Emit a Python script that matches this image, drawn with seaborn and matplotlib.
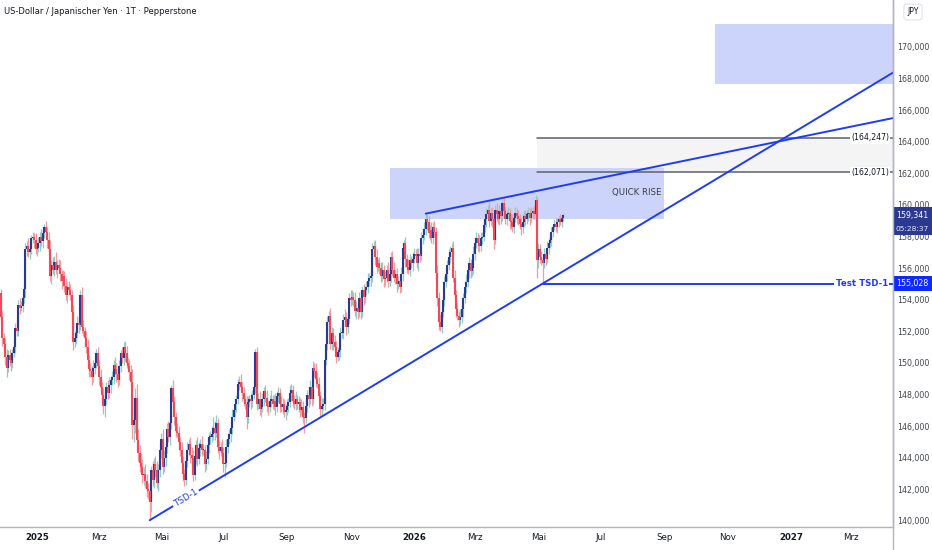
import numpy as np
import pandas as pd
import matplotlib
matplotlib.use("Agg")
import matplotlib.pyplot as plt
from matplotlib.patches import Rectangle
from matplotlib.lines import Line2D
import seaborn as sns

# USD/JPY daily candles (close + wick lengths per month)
first_open = 154.4
first_day = "2024-11-27"

close_nov24 = [152.9, 151.6, 151.2]
upw_nov24 = [0.3, 0.4, 0.3]
dnw_nov24 = [0.4, 0.5, 0.6]

close_dec24 = [150.4, 149.7, 150.5, 150.2, 150.0, 150.6, 151.0, 152.2, 152.0, 153.7, 153.5,
               153.6, 154.1, 154.7, 157.2, 157.4, 157.0, 157.2, 157.9, 158.0, 157.8, 157.2]
upw_dec24 = [0.4, 0.5, 0.3, 0.4, 0.5, 0.3, 0.4, 0.3, 0.5, 0.3, 0.4, 0.3, 0.5, 0.3, 0.4, 0.3, 0.5, 0.3, 0.2, 0.3, 0.2, 0.4]
dnw_dec24 = [0.5, 0.6, 0.3, 0.4, 0.5, 0.3, 0.2, 0.4, 0.3, 0.3, 0.4, 0.2, 0.4, 0.3, 0.5, 0.4, 0.3, 0.4, 0.3, 0.3, 0.5, 0.3]

close_jan25 = [157.3, 157.6, 158.0, 157.7, 158.2, 158.6, 158.3, 157.8, 157.2, 155.5, 156.2, 155.9,
               156.4, 155.9, 156.2, 156.0, 155.6, 155.2, 155.5, 154.9, 154.3, 154.8, 154.6]
upw_jan25 = [0.3, 0.4, 0.3, 0.5, 0.3, 0.2, 0.4, 0.3, 0.5, 0.6, 0.3, 0.5, 0.4, 0.6, 0.3, 0.4, 0.5, 0.3, 0.4, 0.3, 0.5, 0.3, 0.4]
dnw_jan25 = [0.4, 0.3, 0.5, 0.3, 0.4, 0.3, 0.3, 0.5, 0.4, 0.3, 0.5, 0.3, 0.4, 0.3, 0.5, 0.3, 0.4, 0.5, 0.3, 0.4, 0.3, 0.5, 0.3]

close_feb25 = [154.3, 153.2, 151.3, 151.6, 151.9, 152.5, 152.4, 154.3, 152.3, 152.0,
               151.6, 151.0, 150.2, 149.6, 149.5, 149.1, 149.7, 150.0, 150.6, 149.8]
upw_feb25 = [0.4, 0.3, 0.5, 0.4, 0.3, 0.5, 0.4, 0.3, 0.5, 0.4, 0.3, 0.4, 0.5, 0.3, 0.4, 0.3, 0.5, 0.4, 0.3, 0.4]
dnw_feb25 = [0.3, 0.4, 0.5, 0.3, 0.4, 0.3, 0.5, 0.3, 0.4, 0.3, 0.5, 0.4, 0.3, 0.5, 0.4, 0.5, 0.3, 0.4, 0.3, 0.5]

close_mar25 = [149.1, 148.5, 148.0, 147.3, 147.7, 148.5, 148.1, 148.6, 148.9, 149.1, 149.9,
               149.6, 149.3, 148.9, 149.8, 150.6, 150.3, 151.0, 150.6, 150.0, 149.8]
upw_mar25 = [0.4, 0.5, 0.3, 0.4, 0.6, 0.3, 0.4, 0.5, 0.3, 0.4, 0.3, 0.5, 0.4, 0.3, 0.4, 0.2, 0.4, 0.3, 0.4, 0.5, 0.3]
dnw_mar25 = [0.5, 0.3, 0.4, 0.5, 0.7, 0.3, 0.4, 0.3, 0.5, 0.3, 0.4, 0.3, 0.5, 0.4, 0.3, 0.4, 0.3, 0.4, 0.5, 0.3, 0.4]

close_apr25 = [149.4, 148.8, 146.1, 146.4, 147.8, 145.1, 144.3, 143.7, 143.4, 142.9, 143.0,
               142.5, 142.0, 141.9, 141.2, 143.2, 142.6, 143.6, 143.2, 142.4, 143.2, 144.5]
upw_apr25 = [0.4, 0.5, 0.8, 0.9, 0.6, 0.9, 0.7, 0.5, 0.6, 0.5, 0.4, 0.6, 0.5, 0.4, 0.5, 0.3, 0.6, 0.4, 0.5, 0.6, 0.4, 0.3]
dnw_apr25 = [0.5, 0.4, 0.9, 1.1, 0.8, 0.6, 0.5, 0.6, 0.4, 0.5, 0.6, 0.4, 0.5, 0.5, 1.15, 0.6, 0.4, 0.5, 0.4, 0.3, 0.5, 0.4]

close_may25 = [145.2, 143.4, 144.0, 144.7, 145.8, 145.3, 146.2, 148.4, 147.5, 146.6, 145.7,
               145.6, 145.0, 144.5, 143.7, 143.0, 142.6, 143.8, 144.5, 144.9, 144.2, 144.0]
upw_may25 = [0.4, 0.6, 0.5, 0.3, 0.4, 0.5, 0.3, 0.2, 0.5, 0.4, 0.3, 0.5, 0.4, 0.3, 0.5, 0.4, 0.3, 0.4, 0.5, 0.3, 0.4, 0.5]
dnw_may25 = [0.5, 0.4, 0.3, 0.5, 0.4, 0.3, 0.5, 0.4, 0.3, 0.5, 0.4, 0.3, 0.5, 0.4, 0.3, 0.5, 0.4, 0.3, 0.4, 0.3, 0.5, 0.4]

close_jun25 = [142.9, 144.1, 144.8, 143.9, 144.6, 144.9, 144.5, 144.5, 143.6, 143.9, 144.8,
               145.3, 145.3, 145.5, 145.9, 145.6, 146.2, 144.7, 144.4, 144.7, 144.3]
upw_jun25 = [0.5, 0.4, 0.3, 0.5, 0.4, 0.3, 0.5, 0.4, 0.3, 0.5, 0.4, 0.3, 0.4, 0.5, 0.7, 0.4, 0.5, 0.3, 0.4, 0.3, 0.5]
dnw_jun25 = [0.4, 0.3, 0.5, 0.4, 0.3, 0.5, 0.4, 0.3, 0.5, 0.4, 0.3, 0.5, 0.4, 0.3, 0.4, 0.5, 0.3, 0.4, 0.5, 0.3, 0.4]

close_jul25 = [143.6, 143.7, 144.7, 145.2, 145.5, 145.9, 146.6, 147.0, 147.4, 147.7, 148.7, 148.8,
               148.5, 148.1, 147.7, 147.4, 146.6, 147.5, 147.7, 147.6, 148.0, 148.5, 150.7]
upw_jul25 = [0.4, 0.3, 0.5, 0.4, 0.3, 0.4, 0.5, 0.3, 0.4, 0.3, 0.3, 0.4, 0.5, 0.3, 0.4, 0.3, 0.5, 0.4, 0.3, 0.4, 0.3, 0.4, 0.2]
dnw_jul25 = [0.5, 0.8, 0.3, 0.4, 0.3, 0.5, 0.4, 0.3, 0.4, 0.5, 0.3, 0.4, 0.3, 0.5, 0.4, 0.3, 0.8, 0.4, 0.3, 0.5, 0.4, 0.3, 0.4]

close_aug25 = [147.4, 147.7, 147.1, 147.2, 147.7, 148.2, 147.8, 147.3, 147.2, 147.6, 147.7,
               147.4, 147.6, 147.2, 147.9, 148.1, 147.4, 147.2, 147.4, 146.9, 147.0]
upw_aug25 = [0.3, 0.4, 0.5, 0.3, 0.4, 0.3, 0.4, 0.5, 0.3, 0.4, 0.6, 0.3, 0.4, 0.5, 0.3, 0.4, 0.3, 0.5, 0.4, 0.3, 0.4]
dnw_aug25 = [0.4, 0.3, 0.4, 0.5, 0.3, 0.4, 0.3, 0.4, 0.5, 0.3, 0.4, 0.3, 0.4, 0.5, 0.3, 0.4, 0.5, 0.3, 0.4, 0.3, 0.5]

close_sep25 = [147.3, 147.5, 148.1, 148.3, 147.6, 147.4, 147.7, 147.4, 147.5, 147.0, 147.2,
               146.6, 146.5, 147.3, 148.0, 147.7, 148.5, 147.7, 149.7, 149.5, 149.0, 148.7]
upw_sep25 = [0.4, 0.3, 0.5, 0.4, 0.3, 0.4, 0.5, 0.3, 0.4, 0.3, 0.5, 0.4, 0.3, 0.4, 0.3, 0.5, 0.4, 0.3, 0.4, 0.3, 0.5, 0.4]
dnw_sep25 = [0.3, 0.4, 0.3, 0.5, 0.4, 0.3, 0.4, 0.3, 0.5, 0.4, 0.3, 0.4, 0.9, 0.3, 0.4, 0.5, 0.3, 0.4, 0.3, 0.4, 0.5, 0.3]

close_oct25 = [147.9, 147.1, 147.3, 147.4, 150.2, 151.2, 152.6, 153.0, 151.2, 151.9, 151.3, 151.0,
               150.4, 150.7, 150.8, 151.9, 151.9, 152.7, 152.9, 152.3, 152.8, 154.1, 154.0]
upw_oct25 = [0.4, 0.3, 0.5, 0.4, 0.4, 0.5, 0.4, 0.3, 0.5, 0.4, 0.3, 0.5, 0.4, 0.3, 0.5, 0.4, 0.3, 0.4, 0.5, 0.3, 0.4, 0.3, 0.5]
dnw_oct25 = [0.3, 0.5, 0.4, 0.3, 0.4, 0.3, 0.4, 0.5, 0.3, 0.4, 0.5, 0.3, 0.4, 0.3, 0.5, 0.4, 0.3, 0.4, 0.3, 0.5, 0.4, 0.3, 0.4]

close_nov25 = [154.2, 154.0, 153.3, 153.5, 153.2, 154.1, 153.2, 154.6, 154.2, 154.6,
               154.8, 155.2, 155.4, 155.5, 157.2, 157.4, 156.7, 156.1, 156.3, 156.0]
upw_nov25 = [0.4, 0.3, 0.5, 0.4, 0.3, 0.4, 0.5, 0.3, 0.4, 0.3, 0.4, 0.5, 0.3, 0.4, 0.4, 0.3, 0.4, 0.5, 0.3, 0.4]
dnw_nov25 = [0.3, 0.4, 0.3, 0.5, 0.4, 0.3, 0.4, 0.3, 0.5, 0.4, 0.3, 0.4, 0.3, 0.5, 0.4, 0.3, 0.5, 0.4, 0.3, 0.4]

close_dec25 = [155.5, 155.9, 155.3, 155.4, 155.9, 155.2, 155.6, 156.7, 155.9, 155.4, 155.6, 155.0,
               155.2, 154.8, 155.6, 157.3, 157.6, 156.6, 156.1, 155.9, 156.5, 156.3, 156.6]
upw_dec25 = [0.4, 0.5, 0.3, 0.4, 0.3, 0.5, 0.4, 0.3, 0.4, 0.5, 0.3, 0.4, 0.3, 0.4, 0.5, 0.3, 0.2, 0.4, 0.3, 0.5, 0.4, 0.3, 0.4]
dnw_dec25 = [0.4, 0.3, 0.5, 0.4, 0.3, 0.4, 0.3, 0.5, 0.4, 0.3, 0.4, 0.5, 0.3, 0.4, 0.3, 0.4, 0.3, 0.5, 0.4, 0.3, 0.4, 0.3, 0.5]

close_jan26 = [156.9, 156.8, 156.3, 156.9, 156.8, 157.9, 158.1, 158.5, 159.1, 158.9, 158.2,
               158.4, 157.9, 158.6, 158.3, 155.7, 154.1, 152.6, 152.3, 153.2, 154.0, 155.1]
upw_jan26 = [0.4, 0.3, 0.5, 0.4, 0.3, 0.4, 0.3, 0.4, 0.35, 0.3, 0.4, 0.3, 0.5, 0.3, 0.4, 0.3, 0.5, 0.4, 0.5, 0.4, 0.3, 0.4]
dnw_jan26 = [0.3, 0.4, 0.3, 0.5, 0.4, 0.3, 0.4, 0.3, 0.4, 0.5, 0.3, 0.4, 0.3, 0.4, 0.3, 0.6, 0.5, 0.5, 0.3, 0.4, 0.3, 0.4]

close_feb26 = [155.6, 156.2, 156.7, 157.0, 157.3, 155.4, 154.3, 153.4, 153.0, 152.7,
               152.9, 153.4, 154.1, 154.8, 155.1, 155.9, 156.3, 155.8, 156.0, 156.9]
upw_feb26 = [0.4, 0.3, 0.5, 0.4, 0.3, 0.4, 0.5, 0.3, 0.4, 0.3, 0.5, 0.4, 0.3, 0.4, 0.5, 0.3, 0.4, 0.3, 0.4, 0.5]
dnw_feb26 = [0.3, 0.4, 0.3, 0.4, 0.5, 0.3, 0.4, 0.5, 0.3, 0.4, 0.3, 0.4, 0.5, 0.3, 0.4, 0.3, 0.5, 0.4, 0.3, 0.4]

close_mar26 = [157.6, 157.9, 157.6, 157.4, 157.9, 158.0, 158.7, 159.1, 159.4, 159.7, 159.0,
               159.5, 159.1, 157.8, 159.7, 159.4, 159.1, 159.6, 159.3, 160.1, 159.6, 159.1]
upw_mar26 = [0.3, 0.4, 0.3, 0.5, 0.4, 0.3, 0.4, 0.3, 0.4, 0.3, 0.5, 0.3, 0.4, 0.5, 0.3, 0.4, 0.3, 0.4, 0.3, 0.2, 0.4, 0.3]
dnw_mar26 = [0.4, 0.3, 0.5, 0.4, 0.3, 0.4, 0.3, 0.4, 0.5, 0.3, 0.4, 0.3, 0.5, 0.6, 0.3, 0.4, 0.3, 0.4, 0.5, 0.3, 0.4, 0.3]

close_apr26 = [159.4, 159.5, 159.0, 158.9, 158.6, 159.2, 159.5, 159.3, 159.1, 158.8, 158.6,
               158.9, 159.3, 159.1, 159.4, 159.5, 159.2, 159.5, 159.6, 159.4, 160.3, 156.5]
upw_apr26 = [0.3, 0.4, 0.3, 0.4, 0.5, 0.3, 0.4, 0.3, 0.4, 0.3, 0.4, 0.5, 0.3, 0.4, 0.3, 0.4, 0.3, 0.4, 0.3, 0.4, 0.3, 0.2]
dnw_apr26 = [0.4, 0.3, 0.5, 0.4, 0.3, 0.4, 0.3, 0.5, 0.4, 0.3, 0.5, 0.4, 0.3, 0.4, 0.3, 0.4, 0.5, 0.3, 0.4, 0.3, 0.4, 1.1]

close_may26 = [157.2, 156.7, 156.5, 156.3, 156.9, 156.6, 157.3, 157.6, 157.8,
               158.3, 158.6, 158.8, 158.6, 158.9, 159.1, 158.9, 159.2, 159.341]
upw_may26 = [0.4, 0.3, 0.4, 0.3, 0.4, 0.3, 0.4, 0.3, 0.4, 0.3, 0.2, 0.3, 0.4, 0.3, 0.2, 0.3, 0.2, 0.15]
dnw_may26 = [0.5, 0.4, 0.3, 1.27, 0.3, 0.4, 0.3, 0.4, 0.3, 0.4, 0.3, 0.2, 0.3, 0.4, 0.3, 0.2, 0.3, 0.2]

# drawings (bar index counted in trading days from 2025-01-01, prices in JPY)
tsd_anchor_x = [78, 350]
tsd_anchor_y = [140.05, 155.028]
upper_anchor_x = [269, 346]
upper_anchor_y = [159.45, 160.89]
test_level = 155.028
fib_levels = [164.247, 162.071]
fib_start = 346
quick_box = (244.3, 433.9, 159.09, 162.36)
target_box = (469.2, 600.0, 167.66, 171.46)
countdown = "05:28:37"

tick_dates = ["2025-01-01", "2025-03-01", "2025-05-01", "2025-07-01", "2025-09-01", "2025-11-01",
              "2026-01-01", "2026-03-01", "2026-05-01", "2026-07-01", "2026-09-01", "2026-11-01",
              "2027-01-01", "2027-03-01"]
tick_names = ["2025", "Mrz", "Mai", "Jul", "Sep", "Nov", "2026", "Mrz", "Mai", "Jul", "Sep", "Nov", "2027", "Mrz"]
price_ticks = list(range(140, 171, 2))

# ---------------------------------------------------------------
closes = np.array(close_nov24 + close_dec24 + close_jan25 + close_feb25 + close_mar25 + close_apr25 +
                  close_may25 + close_jun25 + close_jul25 + close_aug25 + close_sep25 + close_oct25 +
                  close_nov25 + close_dec25 + close_jan26 + close_feb26 + close_mar26 + close_apr26 +
                  close_may26)
upw = np.array(upw_nov24 + upw_dec24 + upw_jan25 + upw_feb25 + upw_mar25 + upw_apr25 + upw_may25 +
               upw_jun25 + upw_jul25 + upw_aug25 + upw_sep25 + upw_oct25 + upw_nov25 + upw_dec25 +
               upw_jan26 + upw_feb26 + upw_mar26 + upw_apr26 + upw_may26)
dnw = np.array(dnw_nov24 + dnw_dec24 + dnw_jan25 + dnw_feb25 + dnw_mar25 + dnw_apr25 + dnw_may25 +
               dnw_jun25 + dnw_jul25 + dnw_aug25 + dnw_sep25 + dnw_oct25 + dnw_nov25 + dnw_dec25 +
               dnw_jan26 + dnw_feb26 + dnw_mar26 + dnw_apr26 + dnw_may26)

opens = np.r_[first_open, closes[:-1]]
body_lo = np.minimum(opens, closes)
body_hi = np.maximum(opens, closes)
highs = body_hi + upw
lows = body_lo - dnw
body_hi = np.maximum(body_hi, body_lo + 0.08)

dates = pd.bdate_range(first_day, periods=len(closes))
xs = np.busday_count(np.datetime64("2025-01-01"), dates.values.astype("datetime64[D]"))
up = closes >= opens

tick_pos = np.busday_count(np.datetime64("2025-01-01"), np.array(tick_dates, dtype="datetime64[D]"))

# pixel layout of the screenshot: 1.445 px per bar, 2025-01-01 at x=37
PXB = 1.445
X0 = 37


def bar_at(px):
    return (px - X0) / PXB


x_left, x_right = bar_at(0), bar_at(893)
y_low, y_high = 139.62, 172.97

UP_BODY, UP_WICK = "#2b3990", "#8fcfc6"
DN_BODY, DN_WICK = "#f04a57", "#f59aa0"
BLUE = "#1f3cf5"
TXT = "#131722"

sns.set_style("white")
plt.rcParams["font.family"] = ["Liberation Sans Narrow", "DejaVu Sans"]

fig = plt.figure(figsize=(9.32, 5.5), dpi=100)
ax = fig.add_axes([0, 23 / 550, 893 / 932, 527 / 550])
ax.set_xlim(x_left, x_right)
ax.set_ylim(y_low, y_high)

# boxes and band
ax.add_patch(Rectangle((quick_box[0], quick_box[2]), quick_box[1] - quick_box[0], quick_box[3] - quick_box[2],
                       facecolor="#cdd4fb", edgecolor="none", zorder=1))
ax.add_patch(Rectangle((target_box[0], target_box[2]), target_box[1] - target_box[0], target_box[3] - target_box[2],
                       facecolor="#cdd4fb", edgecolor="none", zorder=1))
ax.add_patch(Rectangle((fib_start, fib_levels[1]), x_right + 5 - fib_start, fib_levels[0] - fib_levels[1],
                       facecolor="#f4f4f5", edgecolor="none", zorder=0.5))
for lvl in fib_levels:
    ax.plot([fib_start, x_right + 5], [lvl, lvl], color="#5d606b", lw=1.1, zorder=2)
    ax.text(bar_at(889), lvl, "(" + f"{lvl:.3f}".replace(".", ",") + ")", ha="right", va="center",
            fontsize=5.6, color=TXT, zorder=6,
            bbox=dict(boxstyle="square,pad=0.15", fc="white", ec="none"))

# candles
ax.vlines(xs[up], lows[up], highs[up], color=UP_WICK, lw=0.9, zorder=3)
ax.vlines(xs[~up], lows[~up], highs[~up], color=DN_WICK, lw=0.9, zorder=3)
ax.vlines(xs[up], body_lo[up], body_hi[up], color=UP_BODY, lw=1.5, zorder=3.5)
ax.vlines(xs[~up], body_lo[~up], body_hi[~up], color=DN_BODY, lw=1.5, zorder=3.5)

# trend lines, extended to the right edge
tsd_slope = (tsd_anchor_y[1] - tsd_anchor_y[0]) / (tsd_anchor_x[1] - tsd_anchor_x[0])
tsd_x = np.array([tsd_anchor_x[0], x_right + 5])
tsd_y = tsd_anchor_y[0] + (tsd_x - tsd_anchor_x[0]) * tsd_slope
sns.lineplot(x=tsd_x, y=tsd_y, ax=ax, color=BLUE, lw=1.4, zorder=4, legend=False)

up_slope = (upper_anchor_y[1] - upper_anchor_y[0]) / (upper_anchor_x[1] - upper_anchor_x[0])
upl_x = np.array([upper_anchor_x[0], x_right + 5])
upl_y = upper_anchor_y[0] + (upl_x - upper_anchor_x[0]) * up_slope
sns.lineplot(x=upl_x, y=upl_y, ax=ax, color=BLUE, lw=1.4, zorder=4, legend=False)

sns.lineplot(x=[tsd_anchor_x[1], x_right + 5], y=[test_level, test_level], ax=ax, color=BLUE, lw=1.4,
             zorder=4, legend=False)
ax.text(bar_at(888), test_level, "Test TSD-1", ha="right", va="center", fontsize=6.2, color=BLUE,
        fontweight="bold", zorder=6, bbox=dict(boxstyle="square,pad=0.15", fc="white", ec="none"))

# TSD-1 label along the line
lab_x = bar_at(186)
lab_y = tsd_anchor_y[0] + (lab_x - tsd_anchor_x[0]) * tsd_slope
angle = np.degrees(np.arctan(tsd_slope * (527 / (y_high - y_low)) / PXB))
ax.text(lab_x, lab_y, "TSD-1", rotation=angle, rotation_mode="anchor", ha="center", va="center",
        fontsize=6.3, color=BLUE, zorder=6, bbox=dict(boxstyle="square,pad=0.2", fc="white", ec="none"))

ax.text(bar_at(662), 160.76, "QUICK RISE", ha="right", va="center", fontsize=6.2, color="#3b3d45", zorder=6)

# axes styling
for side in ["top", "left"]:
    ax.spines[side].set_visible(False)
ax.spines["bottom"].set_color("#b2b5be")
ax.spines["right"].set_color("#b2b5be")
ax.spines["bottom"].set_linewidth(1.0)
ax.spines["right"].set_linewidth(1.0)
fig.add_artist(Line2D([893 / 932, 893 / 932], [0, 1], color="#b2b5be", lw=1.0))

ax.yaxis.tick_right()
ax.set_yticks(price_ticks)
ax.set_yticklabels([f"{v:.3f}".replace(".", ",") for v in price_ticks])
ax.tick_params(axis="y", length=0, pad=3, labelsize=5.7, labelcolor="#434651")
ax.set_xticks(tick_pos)
ax.set_xticklabels(tick_names)
ax.tick_params(axis="x", length=0, pad=4.5, labelsize=6.2, labelcolor=TXT)
for lab, name in zip(ax.get_xticklabels(), tick_names):
    if name.isdigit():
        lab.set_fontweight("bold")
ax.grid(False)

# price tags on the axis
ytr = ax.get_yaxis_transform()
last = closes[-1]
ax.add_patch(Rectangle((1.0, last - 1.24), 40 / 893, 1.77, transform=ytr, clip_on=False,
                       facecolor="#2b3990", edgecolor="none", zorder=7))
ax.text(1 + 3 / 893, last, f"{last:.3f}".replace(".", ","), transform=ytr, ha="left", va="center",
        fontsize=5.7, color="white", zorder=8, clip_on=False)
ax.text(1 + 2.5 / 893, last - 0.86, countdown, transform=ytr, ha="left", va="center",
        fontsize=5.4, color="#e4e7f5", zorder=8, clip_on=False)
ax.add_patch(Rectangle((1.0, test_level - 0.47), 40 / 893, 0.94, transform=ytr, clip_on=False,
                       facecolor="#0d2bff", edgecolor="none", zorder=7))
ax.text(1 + 3 / 893, test_level, f"{test_level:.3f}".replace(".", ","), transform=ytr, ha="left",
        va="center", fontsize=5.7, color="white", zorder=8, clip_on=False)

fig.text(4 / 932, 1 - 11 / 550, "US-Dollar / Japanischer Yen · 1T · Pepperstone", ha="left", va="center",
         fontsize=6.0, color=TXT)
fig.text(913 / 932, 1 - 12 / 550, "JPY", ha="center", va="center", fontsize=5.5, color=TXT,
         bbox=dict(boxstyle="round,pad=0.45", fc="white", ec="#e0e3eb", lw=0.8))

fig.savefig("out.png", dpi=100, facecolor="white")
